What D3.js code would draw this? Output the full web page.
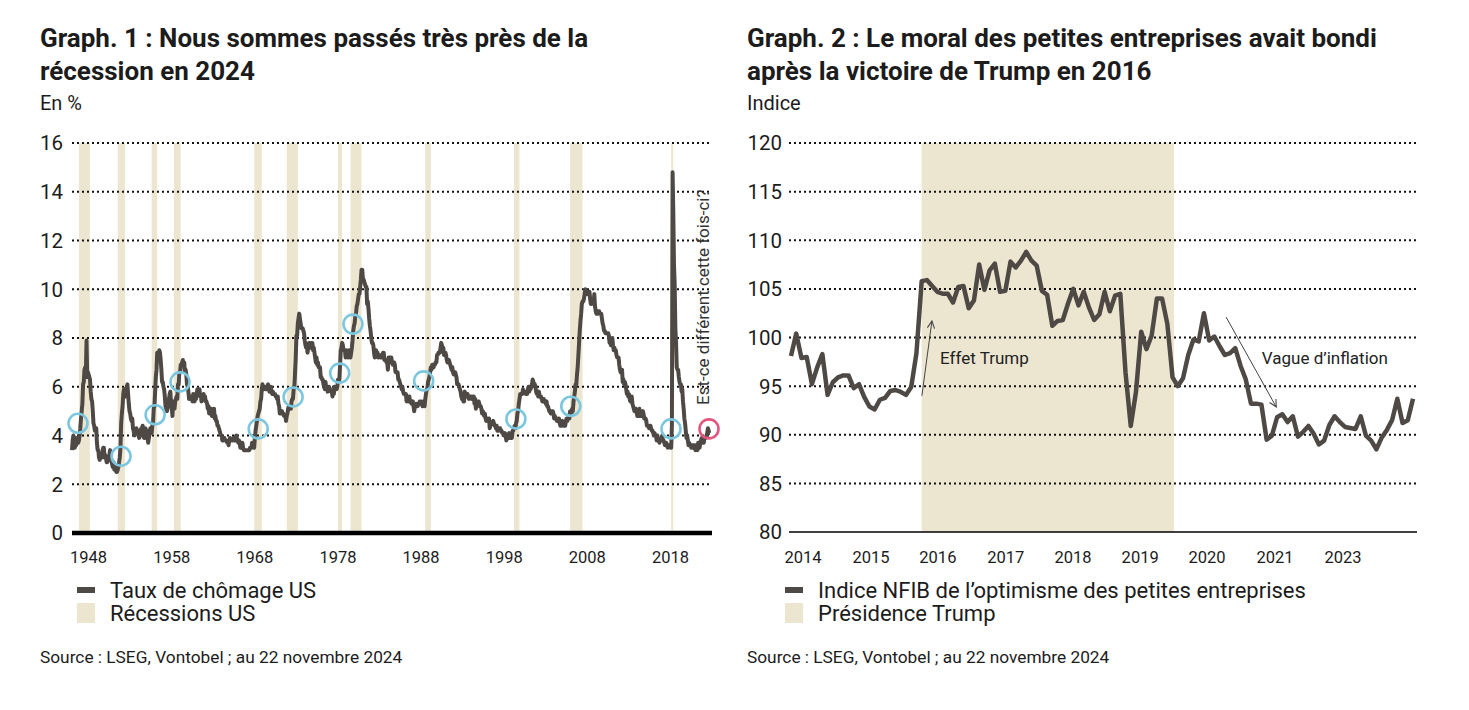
<!DOCTYPE html>
<html><head><meta charset="utf-8">
<script src="https://cdn.jsdelivr.net/npm/d3@7"></script>
<style>
body{margin:0;background:#fff;}
svg{display:block;font-family:Roboto,"Liberation Sans",sans-serif;}
</style></head><body>
<svg id="c" width="1469" height="710"></svg>
<script>
// ---------- Graph 1 data : US unemployment rate, monthly from Jan 1948 ----------
const unemploymentStartYear = 1948;
const unemploymentRate = [
3.4,3.8,4.0,3.9,3.5,3.6,3.6,3.9,3.8,3.7,3.8,4.0,
4.3,4.7,5.0,5.3,6.1,6.2,6.7,6.8,6.6,7.9,6.4,6.6,
6.5,6.4,6.3,5.8,5.5,5.4,5.0,4.5,4.4,4.2,4.2,4.3,
3.7,3.4,3.4,3.1,3.0,3.2,3.1,3.1,3.3,3.5,3.5,3.1,
3.2,3.1,2.9,2.9,3.0,3.0,3.2,3.4,3.1,3.0,2.8,2.7,
2.9,2.6,2.6,2.7,2.5,2.5,2.6,2.7,2.9,3.1,3.5,4.5,
4.9,5.2,5.7,5.9,5.9,5.6,5.8,6.0,6.1,5.7,5.3,5.0,
4.9,4.7,4.6,4.7,4.3,4.2,4.0,4.2,4.1,4.3,4.2,4.2,
4.0,3.9,4.2,4.0,4.3,4.3,4.4,4.1,3.9,3.9,4.3,4.2,
4.2,3.9,3.7,3.9,4.1,4.3,4.2,4.1,4.4,4.5,5.1,5.2,
5.8,6.4,6.7,7.4,7.4,7.3,7.5,7.4,7.1,6.7,6.2,6.2,
6.0,5.9,5.6,5.2,5.1,5.0,5.1,5.2,5.5,5.7,5.8,5.3,
5.2,4.8,5.4,5.2,5.1,5.4,5.5,5.6,5.5,6.1,6.1,6.6,
6.6,6.9,6.9,7.0,7.1,6.9,7.0,6.6,6.7,6.5,6.1,6.0,
5.8,5.5,5.6,5.6,5.5,5.5,5.4,5.7,5.6,5.4,5.7,5.5,
5.7,5.9,5.7,5.7,5.9,5.6,5.6,5.4,5.5,5.5,5.7,5.5,
5.6,5.4,5.4,5.3,5.1,5.2,4.9,5.0,5.1,5.1,4.8,5.0,
4.9,5.1,4.7,4.8,4.6,4.6,4.4,4.4,4.3,4.2,4.1,4.0,
4.0,3.8,3.8,3.8,3.9,3.8,3.8,3.8,3.7,3.7,3.6,3.8,
3.9,3.8,3.8,3.8,3.8,3.9,3.8,3.8,3.8,4.0,3.9,3.8,
3.7,3.8,3.7,3.5,3.5,3.7,3.7,3.5,3.4,3.4,3.4,3.4,
3.4,3.4,3.4,3.4,3.4,3.5,3.5,3.5,3.7,3.7,3.5,3.5,
3.9,4.2,4.4,4.6,4.8,4.9,5.0,5.1,5.4,5.5,5.9,6.1,
5.9,5.9,6.0,5.9,5.9,5.9,6.0,6.1,6.0,5.8,6.0,6.0,
5.8,5.7,5.8,5.7,5.7,5.7,5.6,5.6,5.5,5.6,5.3,5.2,
4.9,5.0,4.9,5.0,4.9,4.9,4.8,4.8,4.8,4.6,4.8,4.9,
5.1,5.2,5.1,5.1,5.1,5.4,5.5,5.5,5.9,6.0,6.6,7.2,
8.1,8.1,8.6,8.8,9.0,8.8,8.6,8.4,8.4,8.4,8.3,8.2,
7.9,7.7,7.6,7.7,7.4,7.6,7.8,7.8,7.6,7.7,7.8,7.8,
7.5,7.6,7.4,7.2,7.0,7.2,6.9,7.0,6.8,6.8,6.8,6.4,
6.4,6.3,6.3,6.1,6.0,5.9,6.2,5.9,6.0,5.8,5.9,6.0,
5.9,5.9,5.8,5.8,5.6,5.7,5.7,6.0,5.9,6.0,5.9,6.0,
6.3,6.3,6.3,6.9,7.5,7.6,7.8,7.7,7.5,7.5,7.5,7.2,
7.5,7.4,7.4,7.2,7.5,7.5,7.2,7.4,7.6,7.9,8.3,8.5,
8.6,8.9,9.0,9.3,9.4,9.6,9.8,9.8,10.1,10.4,10.8,10.8,
10.4,10.4,10.3,10.2,10.1,10.1,9.4,9.5,9.2,8.8,8.5,8.3,
8.0,7.8,7.8,7.7,7.4,7.2,7.5,7.5,7.3,7.4,7.2,7.3,
7.3,7.2,7.2,7.3,7.2,7.4,7.4,7.1,7.1,7.1,7.0,7.0,
6.7,7.2,7.2,7.1,7.2,7.2,7.0,6.9,7.0,7.0,6.9,6.6,
6.6,6.6,6.6,6.3,6.3,6.2,6.1,6.0,5.9,6.0,5.8,5.7,
5.7,5.7,5.7,5.4,5.6,5.4,5.4,5.6,5.4,5.4,5.3,5.3,
5.4,5.2,5.0,5.2,5.2,5.3,5.2,5.2,5.3,5.3,5.4,5.4,
5.4,5.3,5.2,5.4,5.4,5.2,5.5,5.7,5.9,5.9,6.2,6.3,
6.4,6.6,6.8,6.7,6.9,6.9,6.8,6.9,6.9,7.0,7.0,7.3,
7.3,7.4,7.4,7.4,7.6,7.8,7.7,7.6,7.6,7.3,7.4,7.4,
7.3,7.1,7.0,7.1,7.1,7.0,6.9,6.8,6.7,6.8,6.6,6.5,
6.6,6.6,6.5,6.4,6.1,6.1,6.1,6.0,5.9,5.8,5.6,5.5,
5.6,5.4,5.4,5.8,5.6,5.6,5.7,5.7,5.6,5.5,5.6,5.6,
5.6,5.5,5.5,5.6,5.6,5.3,5.5,5.1,5.2,5.2,5.4,5.4,
5.3,5.2,5.2,5.1,4.9,5.0,4.9,4.8,4.9,4.7,4.6,4.7,
4.6,4.6,4.7,4.3,4.4,4.5,4.5,4.5,4.6,4.5,4.4,4.4,
4.3,4.4,4.2,4.3,4.2,4.3,4.3,4.2,4.2,4.1,4.1,4.0,
4.0,4.1,4.0,3.8,4.0,4.0,4.0,4.1,3.9,3.9,3.9,3.9,
4.2,4.2,4.3,4.4,4.3,4.5,4.6,4.9,5.0,5.3,5.5,5.7,
5.7,5.7,5.7,5.9,5.8,5.8,5.8,5.7,5.7,5.7,5.9,6.0,
5.8,5.9,5.9,6.0,6.1,6.3,6.2,6.1,6.1,6.0,5.8,5.7,
5.7,5.6,5.8,5.6,5.6,5.6,5.5,5.4,5.4,5.5,5.4,5.4,
5.3,5.4,5.2,5.2,5.1,5.0,5.0,4.9,5.0,5.0,5.0,4.9,
4.7,4.8,4.7,4.7,4.6,4.6,4.7,4.7,4.5,4.4,4.5,4.4,
4.6,4.5,4.4,4.5,4.4,4.6,4.7,4.6,4.7,4.7,4.7,5.0,
5.0,4.9,5.1,5.0,5.4,5.6,5.8,6.1,6.1,6.5,6.8,7.3,
7.8,8.3,8.7,9.0,9.4,9.5,9.5,9.6,9.8,10.0,9.9,9.9,
9.8,9.8,9.9,9.9,9.6,9.4,9.4,9.5,9.5,9.4,9.8,9.3,
9.1,9.0,9.0,9.1,9.0,9.1,9.0,9.0,9.0,8.8,8.6,8.5,
8.3,8.3,8.2,8.2,8.2,8.2,8.2,8.1,7.8,7.8,7.7,7.9,
8.0,7.7,7.5,7.6,7.5,7.5,7.3,7.2,7.2,7.2,6.9,6.7,
6.6,6.7,6.7,6.2,6.3,6.1,6.2,6.1,5.9,5.7,5.8,5.6,
5.7,5.5,5.4,5.4,5.6,5.3,5.2,5.1,5.0,5.0,5.1,5.0,
4.8,4.9,5.0,5.1,4.8,4.9,4.8,4.9,5.0,4.9,4.7,4.7,
4.7,4.6,4.4,4.4,4.4,4.3,4.3,4.4,4.3,4.2,4.2,4.1,
4.0,4.1,4.0,4.0,3.8,4.0,3.8,3.8,3.7,3.8,3.8,3.9,
4.0,3.8,3.8,3.7,3.6,3.6,3.7,3.6,3.5,3.6,3.6,3.6,
3.5,3.5,4.4,14.8,13.2,11.0,10.2,8.4,7.8,6.8,6.7,6.7,
6.4,6.2,6.1,6.1,5.8,5.9,5.4,5.1,4.7,4.5,4.2,3.9,
4.0,3.8,3.6,3.7,3.6,3.6,3.5,3.6,3.5,3.6,3.6,3.5,
3.4,3.6,3.5,3.4,3.7,3.6,3.5,3.7,3.8,3.9,3.7,3.8,
3.7,3.9,3.9,3.9,4.0,4.1,4.3,4.2,4.1,4.1
];
// US recessions (decimal years)
const recessionStarts = [1948.84,1953.5,1957.58,1960.25,1969.92,1973.83,1980.0,1981.5,1990.5,2001.17,2007.92,2020.08];
const recessionEnds   = [1950.15,1954.37,1958.25,1961.08,1970.83,1975.17,1980.5,1982.83,1991.17,2001.83,2009.42,2020.33];
// Highlighted circles (Sahm-type signals)
const signalYears  = [1948.72,1953.9,1958.0,1961.0,1970.4,1974.6,1980.2,1981.8,1990.3,2001.4,2008.0,2020.06];
const signalValues = [4.5,3.15,4.85,6.2,4.27,5.58,6.56,8.57,6.24,4.68,5.2,4.27];
const latestSignalYear = 2024.63, latestSignalValue = 4.27;
const leftYTicks = [0,2,4,6,8,10,12,14,16];
const leftXTickYears = [1948,1958,1968,1978,1988,1998,2008,2018];

// ---------- Graph 2 data : NFIB small business optimism, monthly from Nov 2014 ----------
const nfibStartYear = 2014 + 10/12;
const nfibIndex = [
98.1,100.4,
97.9,98.0,95.2,96.9,98.3,94.1,95.4,95.9,96.1,96.1,94.8,95.2,
93.9,92.9,92.6,93.6,93.8,94.5,94.6,94.4,94.1,94.9,98.4,105.8,
105.9,105.3,104.7,104.5,104.5,103.6,105.2,105.3,103.0,103.8,107.5,104.9,
106.9,107.6,104.7,104.8,107.8,107.2,107.9,108.8,107.9,107.4,104.8,104.4,
101.2,101.7,101.8,103.5,105.0,103.3,104.7,103.1,101.8,102.4,104.7,102.7,
104.3,104.5,96.4,90.9,94.4,100.6,98.8,100.2,104.0,104.0,101.4,95.9,
95.0,95.8,98.2,99.8,99.6,102.5,99.7,100.1,99.1,98.2,98.4,98.9,
97.1,95.7,93.2,93.2,93.1,89.5,89.9,91.8,92.1,91.3,91.9,89.8,
90.3,90.9,90.1,89.0,89.4,91.0,91.9,91.3,90.8,90.7,90.6,91.9,
89.9,89.4,88.5,89.7,90.5,91.5,93.7,91.2,91.5,93.7
];
const trumpStart = 2016.917, trumpEnd = 2020.94;
const rightYTicks = [80,85,90,95,100,105,110,115,120];
const rightXTickPositions = [2015.025,2016.108,2017.175,2018.258,2019.329,2020.4,2021.467,2022.55,2023.633];
const rightXTickLabels = ["2014","2015","2016","2017","2018","2019","2020","2021","2023"];

// ---------- drawing ----------
const svg = d3.select("#c");
const lineColor = "#4f4945", shade = "#ece6d1", ink = "#1c1c1c";

function titleBlock(x, lines, unit){
  const t = svg.append("text").attr("x", x).attr("y", 47).attr("fill", ink)
    .attr("font-size", 26).attr("font-weight", 700);
  lines.forEach((l,i)=> t.append("tspan").attr("x", x).attr("dy", i ? 33 : 0).text(l));
  svg.append("text").attr("x", x).attr("y", 110).attr("font-size", 20).attr("fill", ink).text(unit);
}
titleBlock(40, ["Graph. 1 : Nous sommes passés très près de la", "récession en 2024"], "En %");
titleBlock(747, ["Graph. 2 : Le moral des petites entreprises avait bondi", "après la victoire de Trump en 2016"], "Indice");

function dotted(g, x0, x1, scaleY, ticks, base){
  g.selectAll(".grid").data(ticks.filter(t=>t!==base)).join("line")
    .attr("x1", x0).attr("x2", x1).attr("y1", d=>scaleY(d)).attr("y2", d=>scaleY(d))
    .attr("stroke", "#111").attr("stroke-width", 2).attr("stroke-dasharray", "2,3");
}

// ----- Left chart -----
const xL = d3.scaleLinear().domain([1948, 2024 + 9/12]).range([72, 710]);
const yL = d3.scaleLinear().domain([0, 16]).range([533, 143]);
const gL = svg.append("g");
gL.selectAll(".rec").data(recessionStarts).join("rect")
  .attr("x", d=>xL(d)).attr("width", (d,i)=>xL(recessionEnds[i]) - xL(d))
  .attr("y", yL(16)).attr("height", yL(0) - yL(16)).attr("fill", shade);
dotted(gL, 72, 712, yL, leftYTicks, 0);
gL.append("line").attr("x1", 72).attr("x2", 712).attr("y1", yL(0)).attr("y2", yL(0))
  .attr("stroke", "#000").attr("stroke-width", 4.5);
gL.selectAll(".yt").data(leftYTicks).join("text")
  .attr("x", 63).attr("y", d=>yL(d)).attr("dy", "0.36em").attr("text-anchor", "end")
  .attr("font-size", 20.5).attr("fill", ink).text(d=>d);
gL.selectAll(".xt").data(leftXTickYears).join("text")
  .attr("x", d=>xL(d) - 2).attr("y", 557).attr("dy", "0.36em")
  .attr("font-size", 16.5).attr("fill", ink).text(d=>d);
const lineL = d3.line().x((d,i)=>xL(unemploymentStartYear + i/12)).y(d=>yL(d)).curve(d3.curveLinear);
gL.append("path").datum(unemploymentRate).attr("d", lineL).attr("fill", "none")
  .attr("stroke", lineColor).attr("stroke-width", 4).attr("stroke-linejoin", "round");
gL.selectAll(".sig").data(signalYears).join("circle")
  .attr("cx", d=>xL(d)).attr("cy", (d,i)=>yL(signalValues[i])).attr("r", 9.5)
  .attr("fill", "none").attr("stroke", "#7cc7df").attr("stroke-width", 2.6);
gL.append("circle").attr("cx", xL(latestSignalYear)).attr("cy", yL(latestSignalValue)).attr("r", 9.5)
  .attr("fill", "none").attr("stroke", "#e2577f").attr("stroke-width", 2.6);
gL.append("text").attr("transform", `translate(${xL(latestSignalYear)},${yL(5.25)}) rotate(-90)`)
  .attr("font-size", 17).attr("fill", "#333").text("Est-ce différent cette fois-ci?");
// legend
gL.append("rect").attr("x", 77).attr("y", 587).attr("width", 18).attr("height", 6).attr("fill", lineColor);
gL.append("rect").attr("x", 77).attr("y", 603).attr("width", 18).attr("height", 20).attr("fill", shade);
gL.append("text").attr("x", 110).attr("y", 590).attr("dy", "0.36em").attr("font-size", 22).attr("fill", ink).text("Taux de chômage US");
gL.append("text").attr("x", 110).attr("y", 613).attr("dy", "0.36em").attr("font-size", 22).attr("fill", ink).text("Récessions US");
gL.append("text").attr("x", 40).attr("y", 657).attr("dy", "0.36em").attr("font-size", 17.3).attr("fill", ink)
  .text("Source : LSEG, Vontobel ; au 22 novembre 2024");

// ----- Right chart -----
const xR = d3.scaleLinear().domain([nfibStartYear, 2024 + 9/12]).range([791, 1413]);
const yR = d3.scaleLinear().domain([80, 120]).range([532, 143]);
const gR = svg.append("g");
gR.append("rect").attr("x", xR(trumpStart)).attr("width", xR(trumpEnd) - xR(trumpStart))
  .attr("y", yR(120)).attr("height", yR(80) - yR(120)).attr("fill", shade);
dotted(gR, 789, 1417, yR, rightYTicks, 80);
gR.append("line").attr("x1", 789).attr("x2", 1417).attr("y1", yR(80)).attr("y2", yR(80))
  .attr("stroke", "#000").attr("stroke-width", 1.5);
gR.selectAll(".yt").data(rightYTicks).join("text")
  .attr("x", 782).attr("y", d=>yR(d)).attr("dy", "0.36em").attr("text-anchor", "end")
  .attr("font-size", 20.5).attr("fill", ink).text(d=>d);
gR.selectAll(".xt").data(rightXTickPositions).join("text")
  .attr("x", d=>xR(d)).attr("y", 557).attr("dy", "0.36em").attr("text-anchor", "middle")
  .attr("font-size", 16.5).attr("fill", ink).text((d,i)=>rightXTickLabels[i]);
const lineR = d3.line().x((d,i)=>xR(nfibStartYear + i/12)).y(d=>yR(d));
gR.append("path").datum(nfibIndex).attr("d", lineR).attr("fill", "none")
  .attr("stroke", lineColor).attr("stroke-width", 4.5).attr("stroke-linejoin", "round");
// annotations
const defs = svg.append("defs");
defs.append("marker").attr("id", "arr").attr("viewBox", "0 0 10 10").attr("refX", 9).attr("refY", 5)
  .attr("markerWidth", 9).attr("markerHeight", 9).attr("orient", "auto").attr("markerUnits", "userSpaceOnUse")
  .append("path").attr("d", "M1,1 L9,5 L1,9").attr("fill", "none").attr("stroke", "#444").attr("stroke-width", 1.2);
function annot(x0,y0,x1,y1,tx,ty,label){
  gR.append("line").attr("x1", xR(x0)).attr("y1", yR(y0)).attr("x2", xR(x1)).attr("y2", yR(y1))
    .attr("stroke", "#444").attr("stroke-width", 1).attr("marker-end", "url(#arr)");
  gR.append("text").attr("x", xR(tx)).attr("y", yR(ty)).attr("dy", "0.36em")
    .attr("font-size", 17).attr("fill", "#222").text(label);
}
annot(2016.92, 94.0, 2017.08, 101.7, 2017.21, 97.9, "Effet Trump");
annot(2021.77, 102.1, 2022.57, 92.85, 2022.34, 97.9, "Vague d’inflation");
// legend
gR.append("rect").attr("x", 785).attr("y", 587).attr("width", 18).attr("height", 6).attr("fill", lineColor);
gR.append("rect").attr("x", 785).attr("y", 603).attr("width", 18).attr("height", 20).attr("fill", shade);
gR.append("text").attr("x", 818).attr("y", 590).attr("dy", "0.36em").attr("font-size", 22).attr("fill", ink).text("Indice NFIB de l’optimisme des petites entreprises");
gR.append("text").attr("x", 818).attr("y", 613).attr("dy", "0.36em").attr("font-size", 22).attr("fill", ink).text("Présidence Trump");
gR.append("text").attr("x", 747).attr("y", 657).attr("dy", "0.36em").attr("font-size", 17.3).attr("fill", ink)
  .text("Source : LSEG, Vontobel ; au 22 novembre 2024");
</script></body></html>
